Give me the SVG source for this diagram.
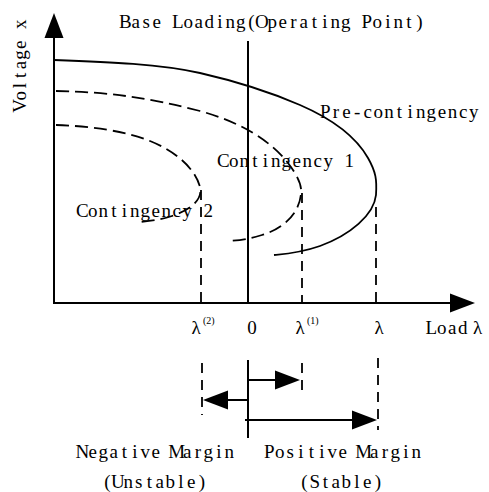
<svg xmlns="http://www.w3.org/2000/svg" width="489" height="492" viewBox="0 0 489 492">
<style>
.t{font-family:"Liberation Serif","Times New Roman",serif;font-size:19px;fill:#000;text-anchor:middle}
.s{font-family:"Liberation Serif","Times New Roman",serif;font-size:10px;fill:#000}
.ax{stroke:#000;stroke-width:2;fill:none}
.c{stroke:#000;stroke-width:1.8;fill:none}
.d{stroke:#000;stroke-width:1.8;fill:none;stroke-dasharray:13 6}
.v{stroke:#000;stroke-width:1.8;fill:none;stroke-dasharray:10 7}
</style>
<defs>
<marker id="ah" markerUnits="userSpaceOnUse" viewBox="0 0 25 20" refX="0" refY="10" markerWidth="25" markerHeight="20" orient="auto">
<path d="M0,0.5 L25,10 L0,19.5 z" fill="#000"/>
</marker>
</defs>
<rect width="489" height="492" fill="#fff"/>
<g id="connectors">
<line class="ax" x1="54" y1="304" x2="54" y2="38" marker-end="url(#ah)"/>
<line class="ax" x1="53" y1="303" x2="450" y2="303" marker-end="url(#ah)"/>
<line class="ax" x1="248" y1="41" x2="248" y2="303"/>
<line class="v" x1="201" y1="190" x2="201" y2="303"/>
<line class="v" x1="302" y1="193" x2="302" y2="303"/>
<line class="v" x1="376" y1="207" x2="376" y2="303"/>
<line class="ax" x1="248" y1="360" x2="248" y2="438"/>
<line class="v" x1="202" y1="363" x2="202" y2="415"/>
<line class="v" x1="302" y1="363" x2="302" y2="392"/>
<line class="v" x1="378" y1="358" x2="378" y2="430"/>
<line class="ax" x1="248" y1="380" x2="275" y2="380" marker-end="url(#ah)"/>
<line class="ax" x1="248" y1="400" x2="228" y2="400" marker-end="url(#ah)"/>
<line class="ax" x1="245" y1="420" x2="352" y2="420" marker-end="url(#ah)"/>
</g>
<g id="pre-contingency">
<path class="c" d="M54,60 C110,62 160,64 200,73 C235,81 270,92 300,105 C330,118 355,135 368,158 C376,172 377,180 376,195 C374,215 350,235 320,246 C300,253 285,254 274,255"/>
<text class="t" x="325.3 335.9 346.5 357.1 367.7 378.3 388.9 399.5 410.1 420.7 431.3 441.9 452.5 463.1 473.7" y="118">Pre-contingency</text>
</g>
<g id="contingency-1">
<path class="d" d="M56,91 C110,92 150,98 200,111 C240,122 270,140 288,163 C298,176 302,186 301,193 C300,212 285,228 262,235 C252,238 245,240 228,241"/>
<text class="t" x="223.3 233.8 244.3 254.8 265.3 275.8 286.3 296.8 307.3 317.8 328.3 338.8 349.3" y="167">Contingency 1</text>
</g>
<g id="contingency-2">
<path class="d" d="M56,125 C90,126 125,131 150,141 C175,151 195,168 200,187 C203,200 190,210 172,216 C160,220 150,221 140,222"/>
<text class="t" x="82.3 92.8 103.3 113.8 124.3 134.8 145.3 155.8 166.3 176.8 187.3 197.8 208.3" y="217">Contingency 2</text>
</g>
<g id="axis-labels">
<text class="t" x="125.3 135.8 146.3 156.8 167.3 177.8 188.3 198.8 209.3 219.8 230.3 240.8 251.3 261.8 272.3 282.8 293.3 303.8 314.3 324.8 335.3 345.8 356.3 366.8 377.3 387.8 398.3 408.8 419.3" y="28">Base Loading(Operating Point)</text>
<text class="t" transform="translate(26,111) rotate(-90)" x="5.1 15.3 25.5 35.7 45.9 56.1 66.3 76.5 86.7" y="0">Voltage x</text>
<text class="t" x="431.3 441.8 452.3 462.8 477.5" y="334">Loadλ</text>
</g>
<g id="ticks">
<text class="t" x="196" y="334">λ</text><text class="s" x="203" y="324">(2)</text>
<text class="t" x="252" y="334">0</text>
<text class="t" x="300" y="334">λ</text><text class="s" x="307" y="324">(1)</text>
<text class="t" x="379" y="334">λ</text>
</g>
<g id="margins">
<text class="t" x="82.3 92.8 103.3 113.8 124.3 134.8 145.3 155.8 166.3 176.8 187.3 197.8 208.3 218.8 229.3" y="458">Negative Margin</text>
<text class="t" x="269.3 279.8 290.3 300.8 311.3 321.8 332.3 342.8 353.3 363.8 374.3 384.8 395.3 405.8 416.3" y="458">Positive Margin</text>
<text class="t" x="107.3 117.8 128.3 138.8 149.3 159.8 170.3 180.8 191.3 201.8" y="488">(Unstable)</text>
<text class="t" x="304.3 314.8 325.3 335.8 346.3 356.8 367.3 377.8" y="488">(Stable)</text>
</g>
</svg>
